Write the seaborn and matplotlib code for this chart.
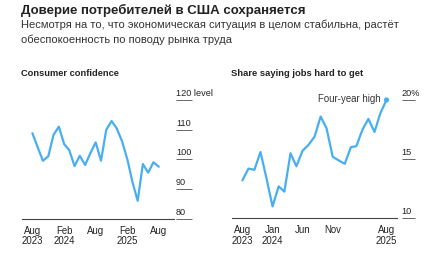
import matplotlib
matplotlib.use("Agg")
import matplotlib.pyplot as plt
import matplotlib.transforms as mtrans
import seaborn as sns
import pandas as pd

sns.set_theme(style="white")
plt.rcParams['font.family'] = ['Liberation Sans', 'DejaVu Sans']

# ---- data ----
months = pd.date_range("2023-08-01", periods=25, freq="MS")
confidence = [108.8, 104.0, 99.5, 101.0, 108.2, 111.0, 105.1, 103.1, 97.7, 101.2,
              98.1, 102.0, 105.7, 99.5, 109.9, 112.9, 110.4, 106.0, 99.8, 92.5,
              86.0, 98.4, 95.5, 99.0, 97.5]
jobs_hard = [13.2, 14.2, 14.1, 15.6, 13.4, 11.0, 12.7, 12.25, 15.5, 14.4,
             15.7, 16.2, 16.9, 18.6, 17.6, 15.2, 14.9, 14.6, 16.0, 16.1,
             17.5, 18.4, 17.3, 18.9, 20.0]

left_xticks = ["2023-08-01", "2024-02-01", "2024-08-01", "2025-02-01", "2025-08-01"]
left_xlabels = ["Aug\n2023", "Feb\n2024", "Aug", "Feb\n2025", "Aug"]
left_yticks = [80, 90, 100, 110, 120]
left_ylabels = ["80", "90", "100", "110", "120 level"]

right_xticks = ["2023-08-01", "2024-01-01", "2024-06-01", "2024-11-01", "2025-08-01"]
right_xlabels = ["Aug\n2023", "Jan\n2024", "Jun", "Nov", "Aug\n2025"]
right_yticks = [10, 15, 20]
right_ylabels = ["10", "15", "20%"]

title = "Доверие потребителей в США сохраняется"
subtitle_1 = "Несмотря на то, что экономическая ситуация в целом стабильна, растёт"
subtitle_2 = "обеспокоенность по поводу рынка труда"

LINE = "#48aef2"
TXT = "#222222"

W, H = 440, 256
fig = plt.figure(figsize=(W / 100, H / 100), dpi=100)
fig.patch.set_facecolor("white")

def fx(px):
    return px / W

def fy(py):
    return 1 - py / H

ax1 = fig.add_axes([fx(22), fy(218.6), fx(174) - fx(22), fy(97) - fy(218.6)])
ax2 = fig.add_axes([fx(231.7), fy(218.3), fx(397) - fx(231.7), fy(97) - fy(218.3)])

df1 = pd.DataFrame({"month": months, "value": confidence})
df2 = pd.DataFrame({"month": months, "value": jobs_hard})

sns.lineplot(data=df1, x="month", y="value", ax=ax1, color=LINE, linewidth=1.6)
sns.lineplot(data=df2, x="month", y="value", ax=ax2, color=LINE, linewidth=1.6)
sns.scatterplot(data=df2.iloc[[-1]], x="month", y="value", ax=ax2, color=LINE,
                s=14, edgecolor="none", zorder=5)
ax2.annotate("Four-year high", xy=(df2["month"].iloc[-1], df2["value"].iloc[-1]),
             xytext=(-4, 0.5), textcoords="offset points", ha="right", va="center",
             fontsize=6.9, color="#333333")

def style(ax, xlim, ylim, xticks, xlabels, yticks, ylabels, outward, ticklen):
    ax.set_xlim(pd.Timestamp(xlim[0]), pd.Timestamp(xlim[1]))
    ax.set_ylim(*ylim)
    ax.set_xlabel("")
    ax.set_ylabel("")
    for s in ["top", "left", "right"]:
        ax.spines[s].set_visible(False)
    ax.spines["bottom"].set_color("#444444")
    ax.spines["bottom"].set_linewidth(0.8)
    ax.set_xticks([pd.Timestamp(t) for t in xticks])
    ax.set_xticklabels(xlabels)
    ax.tick_params(axis="x", direction="out", length=2.5, width=0.6, color="#777777",
                   labelsize=6.9, labelcolor=TXT, pad=2.5)
    for lab in ax.get_xticklabels():
        lab.set_linespacing(1.05)
    ax.yaxis.tick_right()
    ax.spines["right"].set_position(("outward", outward))
    ax.set_yticks(yticks)
    ax.set_yticklabels(ylabels)
    ax.tick_params(axis="y", which="both", direction="out", length=ticklen, width=0.7,
                   color="#666666", labelsize=6.6, labelcolor=TXT, pad=-ticklen,
                   left=False, right=True, labelleft=False, labelright=True)
    for lab in ax.get_yticklabels():
        lab.set_va("bottom")
        lab.set_ha("left")
        lab.set_transform(lab.get_transform() +
                          mtrans.ScaledTranslation(0, 2 / 100, fig.dpi_scale_trans))
    ax.set_facecolor("white")
    ax.grid(False)

style(ax1, ("2023-06-02", "2025-10-28"), (80, 121.0), left_xticks, left_xlabels,
      left_yticks, left_ylabels, 1.5, 11.5)
style(ax2, ("2023-06-08", "2025-09-23"), (10, 20.25), right_xticks, right_xlabels,
      right_yticks, right_ylabels, 3.4, 9.0)

fig.text(fx(21), fy(14.3), title, fontsize=9.5, fontweight="bold", color=TXT, va="baseline")
fig.text(fx(21), fy(28.3), subtitle_1, fontsize=8.0, color="#333333", va="baseline")
fig.text(fx(21), fy(42.6), subtitle_2, fontsize=8.0, color="#333333", va="baseline")
fig.text(fx(21), fy(76.3), "Consumer confidence", fontsize=6.7, fontweight="bold",
         color=TXT, va="baseline")
fig.text(fx(231), fy(76.3), "Share saying jobs hard to get", fontsize=6.75,
         fontweight="bold", color=TXT, va="baseline")

fig.savefig("out.png", dpi=100, facecolor="white")
